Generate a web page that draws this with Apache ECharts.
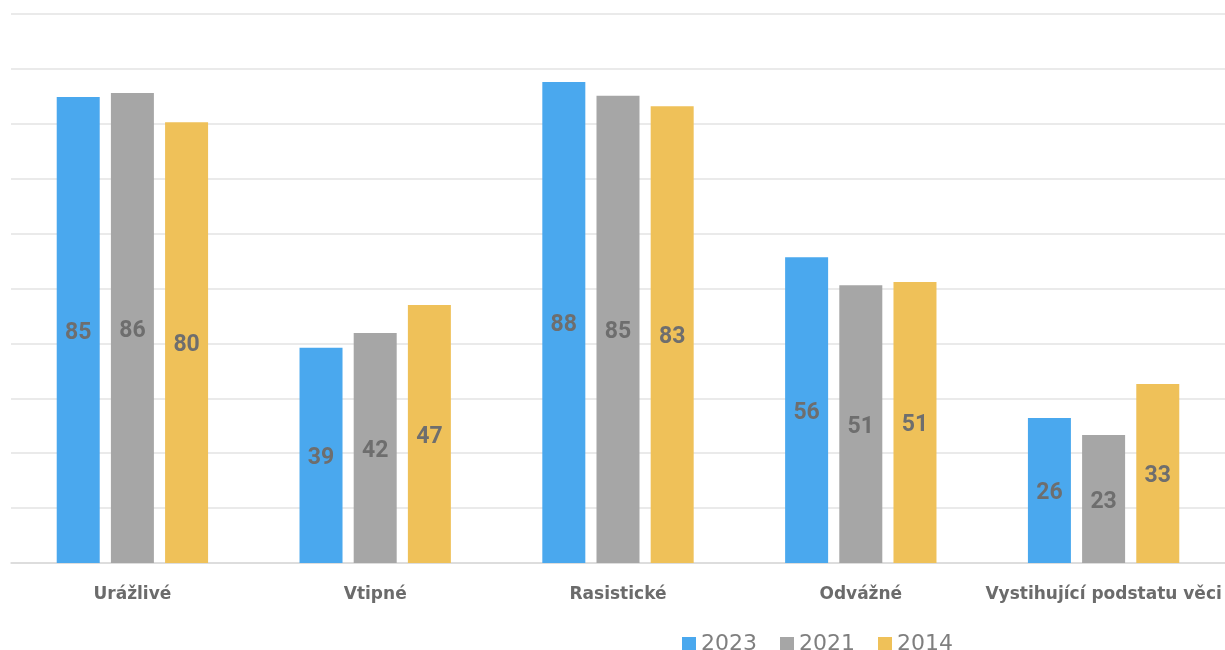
<!DOCTYPE html>
<html><head><meta charset="utf-8">
<script src="https://cdn.jsdelivr.net/npm/echarts@6/dist/echarts.min.js"></script>
<style>html,body{margin:0;padding:0;background:#fff}#c{width:1225px;height:650px}</style>
</head><body><div id="c"></div>
<script>
const categories = ['Urážlivé', 'Vtipné', 'Rasistické', 'Odvážné', 'Vystihující podstatu věci'];
const s2023 = [84.9, 39.2, 87.6, 55.7, 26.4];
const s2021 = [85.6, 41.9, 85.1, 50.6, 23.3];
const s2014 = [80.3, 47.0, 83.2, 51.2, 32.6];
const seriesNames = ['2023', '2021', '2014'];
const colors = ['#4AA8EE', '#A6A6A6', '#EFC159'];

const chart = echarts.init(document.getElementById('c'));
const label = {
  show: true, position: 'inside', offset: [0, 3], color: '#6E6E6E', fontFamily: 'Roboto',
  fontWeight: 'bold', fontSize: 23, formatter: p => Math.round(p.value)
};
chart.setOption({
  animation: false,
  grid: { left: 11, right: 0, top: 14, bottom: 87 },
  legend: {
    data: seriesNames, left: 677, top: 628, itemWidth: 14, itemHeight: 14, itemGap: 23,
    icon: 'rect',
    textStyle: { color: '#7F7F7F', fontSize: 22, fontFamily: 'DejaVu Sans' }
  },
  xAxis: {
    type: 'category', data: categories,
    axisLine: { lineStyle: { color: '#D9D9D9', width: 1.5 } },
    axisTick: { show: false },
    axisLabel: { interval: 0, color: '#6B6B6B', fontSize: 17, fontWeight: 'bold', fontFamily: 'DejaVu Sans', margin: 23 }
  },
  yAxis: {
    type: 'value', min: 0, max: 100, interval: 10,
    axisLabel: { show: false }, axisLine: { show: false }, axisTick: { show: false },
    splitLine: { lineStyle: { color: '#E3E3E3', width: 1.5 } }
  },
  series: [s2023, s2021, s2014].map((d, i) => ({
    name: seriesNames[i], type: 'bar', data: d, barWidth: 43, barGap: '26%',
    itemStyle: { color: colors[i] }, label: label
  }))
});
</script></body></html>
